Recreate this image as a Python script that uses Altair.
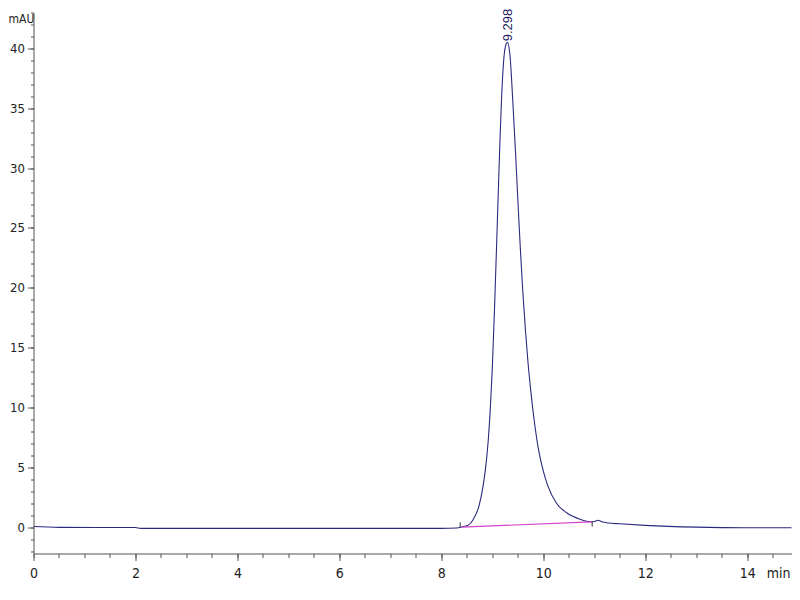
import altair as alt
import pandas as pd

# Chromatogram trace (time in min, absorbance in mAU)
time_min = [0.0, 0.5, 2.0, 2.1, 4.0, 6.0, 8.0, 8.3, 8.43, 8.53, 8.63, 8.74, 8.82,
            8.87, 8.92, 8.96, 9.0, 9.05, 9.10, 9.15, 9.20, 9.25, 9.298,
            9.35, 9.40, 9.45, 9.50, 9.55, 9.60, 9.65, 9.70, 9.76, 9.82, 9.92,
            10.0, 10.09, 10.26, 10.46, 10.72, 10.95,
            11.02, 11.07, 11.15, 11.27, 11.5, 12.0, 13.0, 14.0, 15.0]
mau = [0.05, -0.02, -0.03, -0.1, -0.1, -0.1, -0.1, -0.07, 0.05, 0.17, 0.67, 1.78, 3.45,
       5.0, 7.2, 9.8, 13.2, 19.0, 25.6, 32.2, 37.4, 40.0, 40.5,
       39.3, 35.8, 31.8, 27.5, 23.3, 19.6, 16.5, 13.8, 11.2, 9.0, 6.2,
       4.7, 3.45, 2.0, 1.2, 0.67, 0.45,
       0.5, 0.58, 0.45, 0.35, 0.28, 0.15, 0.0, -0.05, -0.05]

# Integration baseline
base_t = [8.40, 10.95]
base_v = [0.0, 0.45]

# Integration markers
mark_t = [8.37, 10.96]
mark_v1 = [0.0, 0.45]
mark_v2 = [0.4, 0.05]

peak_t = [9.298]
peak_v = [40.6]
peak_label = ["9.298"]

x_major = [0, 2, 4, 6, 8, 10, 12, 14]
x_minor = [i * 0.5 for i in range(0, 30)]
y_major = [0, 5, 10, 15, 20, 25, 30, 35, 40]
y_minor = list(range(-2, 44))

FONT = "DejaVu Sans Condensed, Liberation Sans"
AXC = "#555555"

trace = pd.DataFrame({"t": time_min, "v": mau})
base = pd.DataFrame({"t": base_t, "v": base_v})
marks = pd.DataFrame({"t": mark_t, "v1": mark_v1, "v2": mark_v2})
peak = pd.DataFrame({"t": peak_t, "v": peak_v, "label": peak_label})

xs = alt.Scale(domain=[0, 14.87], nice=False, zero=False)
ys = alt.Scale(domain=[-2.2, 43], nice=False, zero=False)

x_axis_major = alt.Axis(values=x_major, tickSize=7, labelPadding=6, grid=False, labelFlush=False,
                        domainColor=AXC, tickColor=AXC, labelFont=FONT, labelFontSize=14,
                        labelColor="#222222", title=None, orient="bottom", format="d")
y_axis_major = alt.Axis(values=y_major, tickSize=6, labelPadding=3, grid=False, labelFlush=False,
                        domainColor=AXC, tickColor=AXC, labelFont=FONT, labelFontSize=13,
                        labelColor="#222222", title=None, orient="left", format="d")

line = alt.Chart(trace).mark_line(color="#2a2a7e", strokeWidth=1.1, interpolate="monotone",
                                  clip=True).encode(
    x=alt.X("t:Q", scale=xs, axis=x_axis_major),
    y=alt.Y("v:Q", scale=ys, axis=y_axis_major),
)

minor = alt.Chart(trace).mark_line(opacity=0).encode(
    x=alt.X("t:Q", scale=xs, axis=alt.Axis(values=x_minor, tickSize=4, labels=False, domain=False,
                                           grid=False, tickColor=AXC, title=None, orient="bottom")),
    y=alt.Y("v:Q", scale=ys, axis=alt.Axis(values=y_minor, tickSize=3, labels=False, domain=False,
                                           grid=False, tickColor=AXC, title=None, orient="left")),
)

baseline = alt.Chart(base).mark_line(color="#d040c8", strokeWidth=1.2).encode(
    x=alt.X("t:Q", scale=xs, axis=None),
    y=alt.Y("v:Q", scale=ys, axis=None),
)

ticks = alt.Chart(marks).mark_rule(color="#333333", strokeWidth=1).encode(
    x=alt.X("t:Q", scale=xs, axis=None),
    y=alt.Y("v1:Q", scale=ys, axis=None),
    y2="v2:Q",
)

label = alt.Chart(peak).mark_text(angle=270, align="left", baseline="middle", fontSize=13,
                                  dy=1, font="Liberation Sans", color="#1c1c5c").encode(
    x=alt.X("t:Q", scale=xs, axis=None),
    y=alt.Y("v:Q", scale=ys, axis=None),
    text="label:N",
)

mau_txt = alt.Chart(peak).mark_text(text="mAU", fontSize=12, font=FONT, color="#222222",
                                    align="left", baseline="middle").encode(
    x=alt.value(-25), y=alt.value(6))
min_txt = alt.Chart(peak).mark_text(text="min", fontSize=14, font=FONT, color="#222222",
                                    align="center", baseline="middle").encode(
    x=alt.value(745), y=alt.value(561))

chart = alt.layer(line, minor, baseline, ticks, label, mau_txt, min_txt).resolve_axis(
    x="independent", y="independent"
).properties(
    width=758, height=541,
    padding={"left": 25.5, "top": 4.5, "right": 0, "bottom": 34},
    autosize=alt.AutoSizeParams(type="none"),
    background="white",
).configure_view(stroke=None)

chart.save("out.html", embed_options={"renderer": "svg", "actions": False})
